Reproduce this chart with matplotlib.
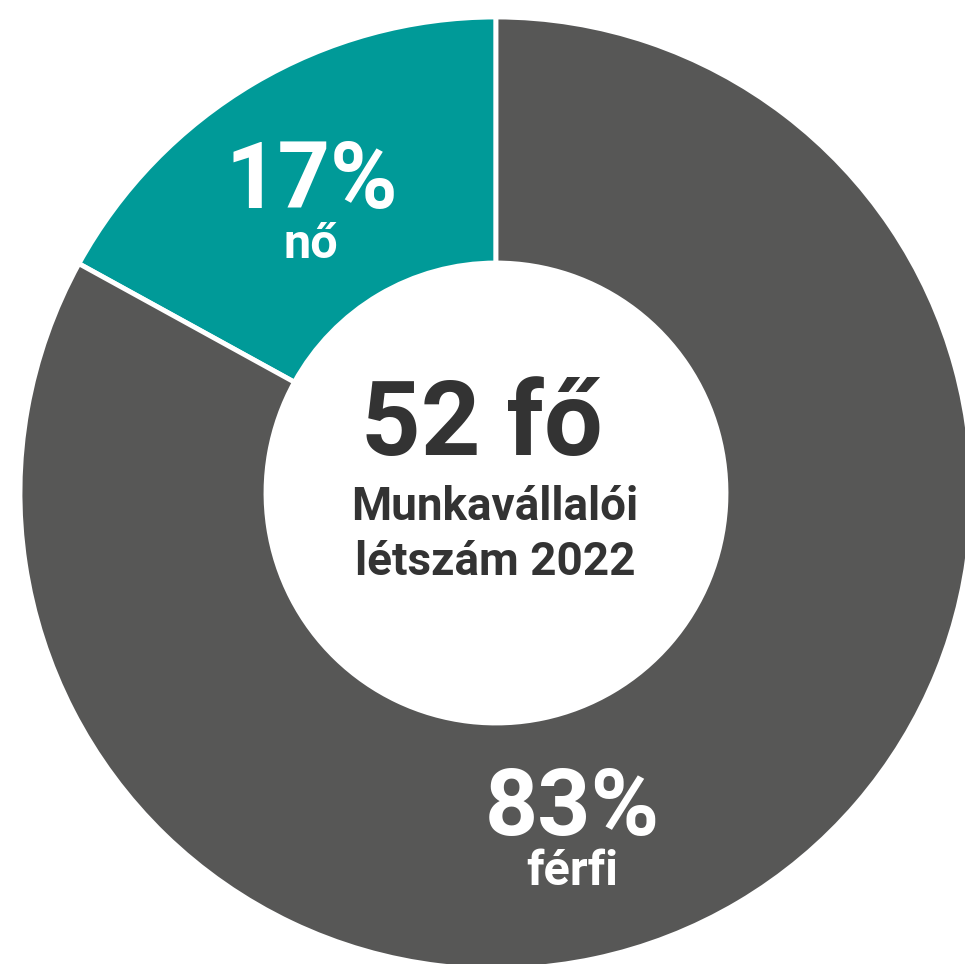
import matplotlib.pyplot as plt

labels = ["nő", "férfi"]
shares = [17, 83]
colors = ["#009a98", "#575756"]
total_staff = 52

plt.rcParams['font.family'] = ['Roboto', 'DejaVu Sans']

W, H = 965, 964
fig = plt.figure(figsize=(W / 100, H / 100), dpi=100)
ax = fig.add_axes([0, 0, 1, 1])

cx, cy = 496, H - 493
r_out, r_in = 476, 230
ax.pie(shares, colors=colors, startangle=90, counterclock=True,
       center=(cx, cy), radius=r_out, frame=True,
       wedgeprops=dict(width=r_out - r_in, edgecolor='white', linewidth=3.5))
ax.set_xlim(0, W)
ax.set_ylim(0, H)
ax.set_aspect('equal')
ax.axis('off')

def t(x, y, s, size, color, va='baseline'):
    ax.text(x, H - y, s, ha='center', va=va, fontsize=size,
            fontweight='bold', color=color)

# percentages sit on their baseline, labels hang below them
t(312, 208, f"{shares[0]}%", 66, 'white')
t(311, 258, labels[0], 35, 'white')
t(572, 835, f"{shares[1]}%", 67, 'white')
t(572, 885, labels[1], 35, 'white')
t(482, 455, f"{total_staff} fő", 75, '#333333')
t(495, 520, "Munkavállalói", 33, '#333333')
t(495, 575, "létszám 2022", 33, '#333333')

fig.savefig("out.png", dpi=100, facecolor='white')
plt.close()
